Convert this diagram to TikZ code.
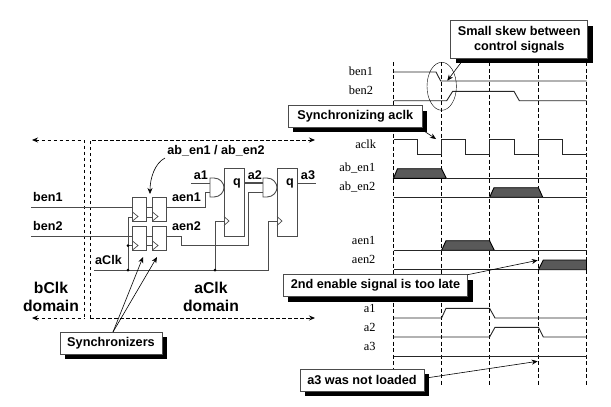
\documentclass[tikz,border=0pt]{standalone}
\usepackage{fontspec}
\setmainfont{Liberation Serif}
\newfontfamily\labelfont{Liberation Sans}
\usetikzlibrary{arrows.meta, positioning, shadows, calc}
\definecolor{wiregray}{gray}{0.3}
\definecolor{pulsegray}{gray}{0.35}
\tikzset{
  wire/.style={draw=wiregray,line width=0.9pt},
  flop/.style={draw=wiregray,line width=0.9pt,fill=white,minimum width=14pt,minimum height=24pt,inner sep=0pt,outer sep=0pt},
  regbox/.style={draw=wiregray,line width=0.9pt,fill=white,minimum width=20pt,minimum height=68pt,inner sep=0pt,outer sep=0pt},
  lbl/.style={font=\labelfont\bfseries\fontsize{12.6}{15}\selectfont,inner sep=0pt},
  domainlbl/.style={font=\labelfont\bfseries\fontsize{15.7}{18}\selectfont,align=center,inner sep=0pt},
  sig/.style={font=\fontsize{12.4}{14}\selectfont,inner sep=0pt},
  calloutbox/.style={draw=wiregray,line width=0.8pt,fill=white,inner sep=0pt,outer sep=0pt,align=center,
    font=\labelfont\bfseries\fontsize{12.7}{15}\selectfont,
    drop shadow={shadow xshift=5pt,shadow yshift=-5pt,fill=black,opacity=1}},
  note/.style={-{Stealth[length=6pt,width=5pt]},line width=0.6pt},
  wave/.style={line width=0.9pt,draw=black!85},
  pulse/.style={line width=0.9pt,draw=black,fill=pulsegray},
  grid/.style={dashed,line width=0.8pt,dash pattern=on 4pt off 2.5pt},
  domainline/.style={dashed,line width=0.8pt,dash pattern=on 3.5pt off 2.5pt},
  dot/.style={circle,fill=black,inner sep=0pt,minimum size=3pt}
}
\begin{document}
\begin{tikzpicture}[x=1pt,y=-1pt]
  \useasboundingbox (0,0) rectangle (611,407);
  % Domain borders
  \draw[domainline,{Stealth[length=6pt,width=5pt]}-] (32,140) -- (84,140) -- (84,318);
  \draw[domainline,{Stealth[length=6pt,width=5pt]}-] (32,318) -- (84,318);
  \draw[domainline,-{Stealth[length=6pt,width=5pt]}] (90,318) -- (90,140) -- (315,140);
  \draw[domainline,-{Stealth[length=6pt,width=5pt]}] (90,318) -- (315,318);
  \node[domainlbl] (bdomain) at (51,296.5) {bClk\\domain};
  \node[domainlbl] (adomain) at (211,296.5) {aClk\\domain};

  % Synchronizers
  \node[flop] (s1) at (139.5,209) {};
  \node[flop] (s2) at (159.5,209) {};
  \node[flop] (s3) at (139.5,238) {};
  \node[flop] (s4) at (159.5,238) {};
  \foreach \ff in {s1,s2,s3,s4}
    \draw[wiregray,line width=0.7pt] ($(\ff.south west)+(0,9pt)$) -- ++(5.5pt,-4.5pt) -- ++(-5.5pt,-4.5pt);
  % Registers
  \node[regbox] (ra) at (234,202) {};
  \node[regbox] (rb) at (287,202) {};
  \node[lbl] (qa) at (237,183) {q};
  \node[lbl] (qb) at (290,183) {q};
  \foreach \rr in {ra,rb}
    \draw[wiregray,line width=0.7pt] ($(\rr.west)+(0,-14.5pt)$) -- ++(5pt,-4.5pt) -- ++(-5pt,-4.5pt);
  % Gates
  \draw[wire,fill=white] (210,178) -- (214,178) .. controls (220,178) and (224,183) .. (224,187.5) .. controls (224,192) and (220,197) .. (214,197) -- (210,197) -- cycle;
  \draw[wire,fill=white] (263,178) -- (267,178) .. controls (273,178) and (277,183) .. (277,187.5) .. controls (277,192) and (273,197) .. (267,197) -- (263,197) -- cycle;

  % Wiring
  \coordinate (ben1in) at (31,207);
  \coordinate (ben2in) at (31,236);
  \coordinate (a1in) at (191,183);
  \coordinate (a3out) at (316,183);
  \coordinate (aclkin) at (94,270);
  \draw[wire] (ben1in) -- (ben1in -| s1.west);
  \draw[wire] (ben2in) -- (ben2in -| s3.west);
  \draw[wire] (s1.east |- ben1in) -- (s2.west |- ben1in);
  \draw[wire] (s3.east |- ben2in) -- (s4.west |- ben2in);
  \draw[wire] (s2.east |- ben1in) -- (205,207) -- (205,192) -- (210,192);
  \draw[wire] (s4.east |- ben2in) -- (181,236) -- (181,245.7) -- (248,245.7) -- (248,192) -- (263,192);
  \draw[wire] (a1in) -- (210,183);
  \draw[wire,line width=1.4pt] (ra.east |- a1in) -- (263,183);
  \draw[wire] (rb.east |- a1in) -- (a3out);
  \draw[wire] (aclkin) -- (268,270) -- (268,221) -- (rb.west |- 0,221);
  \draw[wire] (215,270) -- (215,221) -- (ra.west |- 0,221);
  \draw[wire] (128,270) -- (128,217) -- (s1.west |- 0,217);
  \draw[wire] (128,245.7) -- (s3.west |- 0,245.7);
  \draw[wire] (s1.east |- 0,217) -- (s2.west |- 0,217);
  \draw[wire] (s3.east |- 0,245.7) -- (s4.west |- 0,245.7);
  \node[dot] (j1) at (128,270) {};
  \node[dot] (j2) at (128,245.7) {};
  \node[dot] (j3) at (215,270) {};

  % Left labels
  \node[lbl,anchor=west] (lben1) at (33,197) {ben1};
  \node[lbl,anchor=west] (lben2) at (33,225.5) {ben2};
  \node[lbl,anchor=west] (laclk) at (95,259.5) {aClk};
  \node[lbl,anchor=west] (laen1) at (172,197) {aen1};
  \node[lbl,anchor=west] (laen2) at (172,226) {aen2};
  \node[lbl] (la1) at (201,175) {a1};
  \node[lbl] (la2) at (255,175) {a2};
  \node[lbl] (la3) at (308,175) {a3};
  \node[lbl] (lab) at (216,151) {ab\_en1 / ab\_en2};
  \draw[note] (165,158) .. controls (155,163) and (150,178) .. (150,194);

  % Time grid
  \draw[dashed,line width=0.5pt,dash pattern=on 4pt off 2.5pt] (393.5,62) -- (393.5,385);
  \foreach \tx in {441.6,489.6,538.4,586.5}
    \draw[grid] (\tx,62) -- (\tx,385);

  % Waveforms
  \draw[wave] (393.5,72) -- (436,72) -- (440.7,81) -- (586.5,81);
  \draw[wave] (393.5,100.7) -- (446.7,100.7) -- (452.7,91.3) -- (514,91.3) -- (519.3,100.7) -- (586.5,100.7);
  \draw[wave] (393.5,139.3) -- (417.7,139.3) -- (417.7,154) -- (441.6,154) -- (441.6,139.3) -- (465.7,139.3) -- (465.7,154) -- (489.6,154) -- (489.6,139.3) -- (514,139.3) -- (514,154) -- (538.4,154) -- (538.4,139.3) -- (562,139.3) -- (562,154) -- (586.5,154);
  \draw[pulse] (393.5,178.3) -- (397.5,168.7) -- (441.6,168.7) -- (446.3,178.3) -- cycle;
  \draw[wave] (446.3,178.3) -- (586.5,178.3);
  \draw[pulse] (489.6,197.3) -- (494,187.7) -- (538.4,187.7) -- (542.8,197.3) -- cycle;
  \draw[wave] (393.5,197.3) -- (586.5,197.3);
  \draw[pulse] (441.6,250.3) -- (446,240.7) -- (489.6,240.7) -- (494.3,250.3) -- cycle;
  \draw[wave] (393.5,250.3) -- (586.5,250.3);
  \draw[pulse] (538.4,269.7) -- (543.3,260) -- (586.5,260) -- (586.5,269.7) -- cycle;
  \draw[wave,line width=1.1pt] (393.5,269.7) -- (538.4,269.7);
  \draw[wave] (393.5,318) -- (441.6,318) -- (446,308.3) -- (489.6,308.3) -- (495,318) -- (586.5,318);
  \draw[wave] (393.5,337) -- (489.6,337) -- (495,327.3) -- (538.4,327.3) -- (543.3,337) -- (586.5,337);
  \draw[wave] (393.5,356.3) -- (586.5,356.3);

  % Signal names
  \node[sig] (tben1) at (361,71) {ben1};
  \node[sig] (tben2) at (361,90) {ben2};
  \node[sig] (taclk) at (365.7,144.3) {aclk};
  \node[sig] (tab1) at (357.3,168.3) {ab\_en1};
  \node[sig] (tab2) at (357.3,187.3) {ab\_en2};
  \node[sig] (taen1) at (363.7,240) {aen1};
  \node[sig] (taen2) at (363.7,259) {aen2};
  \node[sig] (ta1) at (369.7,308) {a1};
  \node[sig] (ta2) at (369.7,327) {a2};
  \node[sig] (ta3) at (369.7,346) {a3};

  % Skew ellipse
  \draw (441.7,86.3) ellipse [x radius=14.7pt,y radius=24pt];

  % Callouts
  \node[calloutbox,minimum width=137pt,minimum height=37.6pt] (skewbox) at (519.2,39.5) {Small skew between\\control signals};
  \node[calloutbox,minimum width=134pt,minimum height=21.6pt] (syncbox) at (355.3,116.5) {Synchronizing aclk};
  \node[calloutbox,minimum width=184.4pt,minimum height=22pt] (latebox) at (375.5,285.7) {2nd enable signal is too late};
  \node[calloutbox,minimum width=124pt,minimum height=22.3pt] (loadbox) at (362,380.2) {a3 was not loaded};
  \node[calloutbox,minimum width=102pt,minimum height=22pt] (synchers) at (111,343) {Synchronizers};
  \coordinate (skewtip) at (447.3,80.7);
  \coordinate (clktip) at (436,139);
  \coordinate (latetip) at (537.7,260.3);
  \coordinate (loadtip) at (537.7,361.3);
  \draw[note] (460.7,63) -- (skewtip);
  \draw[note] (425,131.7) -- (clktip);
  \draw[note] (latebox.north east) -- (latetip);
  \draw[note] (428,377.7) -- (loadtip);
  \draw[note] (113,332) -- (143,257);
  \draw[note] (113,332) -- (157,257);
\end{tikzpicture}
\end{document}
